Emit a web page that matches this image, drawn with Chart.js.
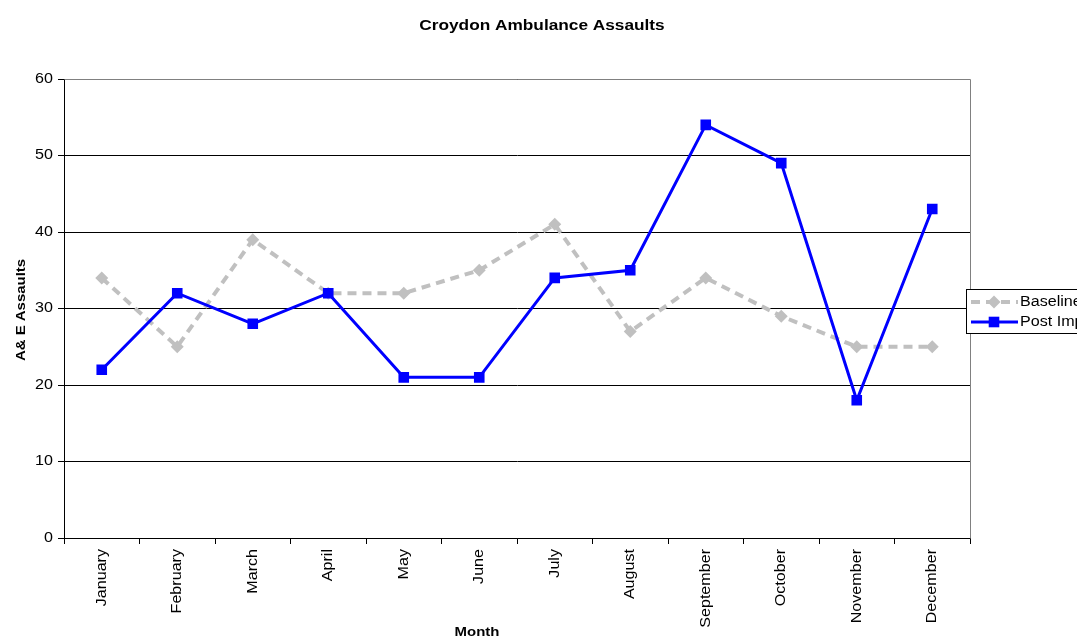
<!DOCTYPE html>
<html>
<head>
<meta charset="utf-8">
<title>Croydon Ambulance Assaults</title>
<script src="https://cdn.jsdelivr.net/npm/chart.js@4/dist/chart.umd.min.js"></script>
<style>
  html, body { margin: 0; padding: 0; background: #ffffff; }
  canvas { display: block; }
</style>
</head>
<body>
<canvas id="chart" width="1077" height="637"></canvas>
<script>
// ---- data ----
const months = ['January', 'February', 'March', 'April', 'May', 'June',
                'July', 'August', 'September', 'October', 'November', 'December'];
const baseline = [34, 25, 39, 32, 32, 35, 41, 27, 34, 29, 25, 25];
const postImplementation = [22, 32, 28, 32, 21, 21, 34, 35, 54, 49, 18, 43];
const yTicks = [0, 10, 20, 30, 40, 50, 60];
const seriesNames = ['Baseline', 'Post Implementation'];
const chartTitle = 'Croydon Ambulance Assaults';
const xTitle = 'Month';
const yTitle = 'A& E Assaults';

// ---- text helpers ----
const FAMILY = '"Liberation Sans", Arial, Helvetica, sans-serif';
const WIDE = 1.15; // glyphs are drawn slightly widened along the baseline

function wideText(ctx, text, x, y, angle, align, font) {
  ctx.save();
  ctx.translate(x, y);
  ctx.rotate(angle);
  ctx.scale(WIDE, 1);
  ctx.font = font;
  ctx.textAlign = align;
  ctx.textBaseline = 'middle';
  ctx.fillStyle = '#000000';
  ctx.fillText(text, 0, 0);
  ctx.restore();
}

// legend marker in the same shape as the series points
function legendMarker(ctx, style, r, x, y, color) {
  ctx.save();
  ctx.fillStyle = color;
  ctx.beginPath();
  if (style === 'rectRot') {
    ctx.moveTo(x - r, y);
    ctx.lineTo(x, y - r);
    ctx.lineTo(x + r, y);
    ctx.lineTo(x, y + r);
    ctx.closePath();
  } else {
    const s = r * Math.SQRT1_2;
    ctx.rect(x - s, y - s, 2 * s, 2 * s);
  }
  ctx.fill();
  ctx.restore();
}

// white page background
const background = {
  id: 'background',
  beforeDraw(chart) {
    const ctx = chart.ctx;
    ctx.save();
    ctx.fillStyle = '#ffffff';
    ctx.fillRect(0, 0, chart.width, chart.height);
    ctx.restore();
  }
};

// plot frame, all text and the legend box
const decorations = {
  id: 'decorations',
  afterDraw(chart) {
    const ctx = chart.ctx;
    const area = chart.chartArea;
    const xs = chart.scales.x;
    const ys = chart.scales.y;

    // grey top and right edges of the plot frame
    ctx.save();
    ctx.strokeStyle = '#808080';
    ctx.lineWidth = 1;
    ctx.beginPath();
    ctx.moveTo(Math.round(area.left) + 0.5, Math.round(area.top) + 0.5);
    ctx.lineTo(Math.round(area.right) + 0.5, Math.round(area.top) + 0.5);
    ctx.lineTo(Math.round(area.right) + 0.5, Math.round(area.bottom) + 0.5);
    ctx.stroke();
    ctx.restore();

    // chart title
    wideText(ctx, chartTitle, 542, 26, 0, 'center', 'bold 15px ' + FAMILY);

    // y tick labels
    ys.ticks.forEach(t => {
      wideText(ctx, String(t.value), 53, ys.getPixelForValue(t.value), 0, 'right', '14px ' + FAMILY);
    });

    // x tick labels, reading upwards
    chart.data.labels.forEach((label, i) => {
      wideText(ctx, label, xs.getPixelForValue(i), 549, -Math.PI / 2, 'right', '14px ' + FAMILY);
    });

    // axis titles
    wideText(ctx, yTitle, 21, (area.top + area.bottom) / 2 + 1.5, -Math.PI / 2, 'center', 'bold 13px ' + FAMILY);
    wideText(ctx, xTitle, 477, 632, 0, 'center', 'bold 13px ' + FAMILY);

    // legend
    const boxLeft = 966.5, boxTop = 289.5, boxBottom = 333.5;
    ctx.save();
    ctx.fillStyle = '#ffffff';
    ctx.fillRect(boxLeft, boxTop, 200, boxBottom - boxTop);
    ctx.strokeStyle = '#000000';
    ctx.lineWidth = 1;
    ctx.strokeRect(boxLeft, boxTop, 200, boxBottom - boxTop);
    ctx.restore();

    const rows = [302, 322];
    chart.data.datasets.forEach((ds, i) => {
      const y = rows[i];
      ctx.save();
      ctx.strokeStyle = ds.borderColor;
      ctx.lineWidth = ds.borderWidth;
      ctx.setLineDash(ds.borderDash || []);
      ctx.beginPath();
      ctx.moveTo(971, y);
      ctx.lineTo(1018, y);
      ctx.stroke();
      ctx.restore();
      legendMarker(ctx, ds.pointStyle, ds.pointRadius, 994, y, ds.pointBackgroundColor);
      wideText(ctx, ds.label, 1020, y, 0, 'left', '14px ' + FAMILY);
    });
  }
};

new Chart(document.getElementById('chart'), {
  type: 'line',
  data: {
    labels: months,
    datasets: [
      {
        label: seriesNames[0],
        data: baseline,
        order: 1,
        borderColor: '#c0c0c0',
        borderWidth: 4,
        borderDash: [9, 6],
        pointStyle: 'rectRot',
        pointRadius: 6.5,
        pointHoverRadius: 6.5,
        pointBackgroundColor: '#c0c0c0',
        pointBorderColor: '#c0c0c0',
        pointBorderWidth: 0,
        tension: 0,
        fill: false
      },
      {
        label: seriesNames[1],
        data: postImplementation,
        order: 0,
        borderColor: '#0000ff',
        borderWidth: 3,
        pointStyle: 'rect',
        pointRadius: 7.5,
        pointHoverRadius: 7.5,
        pointBackgroundColor: '#0000ff',
        pointBorderColor: '#0000ff',
        pointBorderWidth: 0,
        tension: 0,
        fill: false
      }
    ]
  },
  options: {
    responsive: false,
    animation: false,
    devicePixelRatio: 1,
    events: [],
    layout: { padding: { left: 0, right: 107, top: 79, bottom: 0 } },
    plugins: {
      legend: { display: false },
      title: { display: false },
      tooltip: { enabled: false }
    },
    scales: {
      x: {
        type: 'category',
        offset: true,
        grid: {
          offset: true,
          drawOnChartArea: false,
          drawTicks: true,
          tickLength: 6,
          color: '#000000',
          lineWidth: 1
        },
        border: { display: true, color: '#000000', width: 1 },
        ticks: { display: false },
        afterFit(scale) { scale.height = 99; }
      },
      y: {
        min: 0,
        max: 60,
        afterBuildTicks(scale) { scale.ticks = yTicks.map(v => ({ value: v })); },
        grid: {
          drawOnChartArea: true,
          drawTicks: true,
          tickLength: 6,
          color: '#000000',
          lineWidth: 1
        },
        border: { display: true, color: '#000000', width: 1 },
        ticks: { display: false },
        afterFit(scale) { scale.width = 64; }
      }
    }
  },
  plugins: [background, decorations]
});
</script>
</body>
</html>
